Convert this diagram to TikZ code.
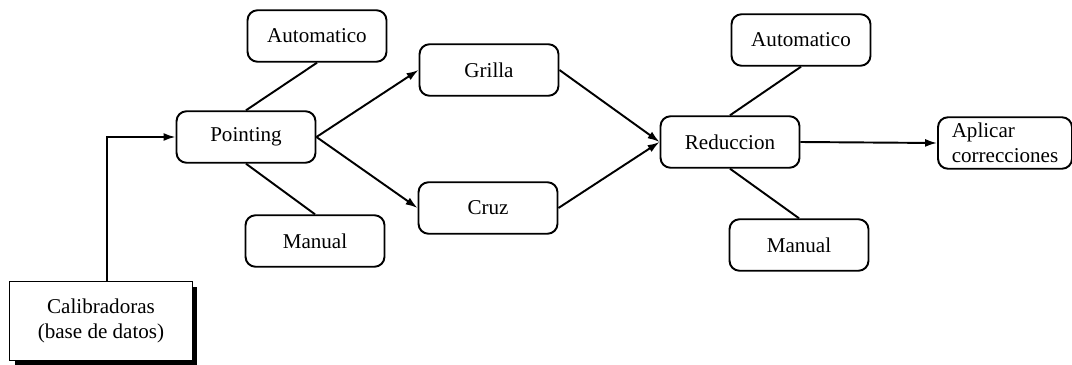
\documentclass[tikz,border=0pt]{standalone}
\usepackage{fontspec}
\setmainfont{Liberation Serif}
\usetikzlibrary{arrows.meta,positioning,shadows}

\tikzset{
  caja/.style={draw,line width=1.1pt,rounded corners=0.2cm,minimum width=2.78cm,
    minimum height=1.03cm,font=\fontsize{12}{14}\selectfont,align=center},
  base/.style={draw,line width=1.1pt,fill=white,minimum width=3.66cm,minimum height=1.58cm,
    font=\fontsize{12}{14}\selectfont,align=center,
    drop shadow={shadow xshift=0.1cm,shadow yshift=-0.1cm,fill=black,opacity=1}},
  flecha/.style={line width=1.1pt,-{Latex[length=2.4mm,width=1.6mm]}},
  linea/.style={line width=1.1pt}
}

\begin{document}
\begin{tikzpicture}[x=0.02cm,y=-0.02cm]
  \useasboundingbox (0,0) rectangle (1072,365);
  % nodos
  \node[caja] (auto1) at (317,36) {Automatico};
  \node[caja] (point) at (246,137) {Pointing};
  \node[caja] (man1) at (315,241) {Manual};
  \node[caja] (grilla) at (489,70) {Grilla};
  \node[caja] (cruz) at (488,208) {Cruz};
  \node[caja] (reduc) at (730,142) {Reduccion};
  \node[caja] (auto2) at (801,40) {Automatico};
  \node[caja] (man2) at (799,245) {Manual};
  \node[caja,minimum width=2.68cm,align=left] (aplic) at (1005,143) {Aplicar\\correcciones};
  \node[base] (calib) at (101,321) {Calibradoras\\(base de datos)};

  % conexiones
  \draw[flecha] ([xshift=0.12cm]calib.north) |- (point.west);
  \draw[linea] (point.north) -- (auto1.south);
  \draw[linea] (point.south) -- (man1.north);
  \draw[flecha] (point.east) -- (grilla.west);
  \draw[flecha] (point.east) -- (cruz.west);
  \draw[flecha] (grilla.east) -- (reduc.west);
  \draw[flecha] (cruz.east) -- (reduc.west);
  \draw[linea] (reduc.north) -- (auto2.south);
  \draw[linea] (reduc.south) -- (man2.north);
  \draw[flecha] (reduc.east) -- (aplic.west);
\end{tikzpicture}
\end{document}
